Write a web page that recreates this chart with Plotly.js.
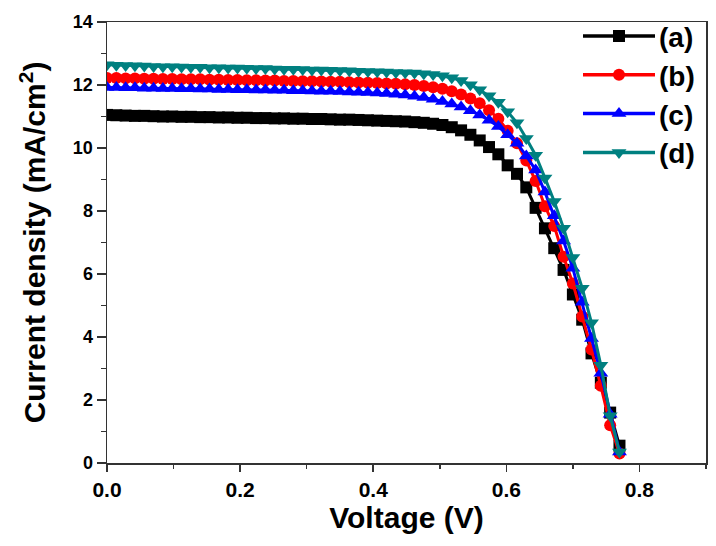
<!DOCTYPE html>
<html>
<head>
<meta charset="utf-8">
<script src="https://cdn.plot.ly/plotly-3.0.1.min.js"></script>
<style>html,body{margin:0;padding:0;background:#fff;}#chart{width:716px;height:546px;}</style>
</head>
<body>
<div id="chart"></div>
<script>
// Voltage (V)
const voltage = [0, 0.014, 0.028, 0.042, 0.056, 0.070, 0.084, 0.098, 0.112, 0.126, 0.140, 0.154, 0.168, 0.182, 0.196, 0.210, 0.224, 0.238, 0.252, 0.266, 0.280, 0.294, 0.308, 0.322, 0.336, 0.350, 0.364, 0.378, 0.392, 0.406, 0.420, 0.434, 0.448, 0.462, 0.476, 0.490, 0.504, 0.518, 0.532, 0.546, 0.560, 0.574, 0.588, 0.602, 0.616, 0.630, 0.644, 0.658, 0.672, 0.686, 0.700, 0.714, 0.728, 0.742, 0.756, 0.770];

const seriesA = [11.05, 11.04, 11.03, 11.02, 11.02, 11.01, 11.00, 11.00, 10.99, 10.99, 10.98, 10.98, 10.97, 10.97, 10.96, 10.96, 10.95, 10.95, 10.94, 10.94, 10.93, 10.93, 10.92, 10.92, 10.91, 10.90, 10.90, 10.89, 10.88, 10.87, 10.86, 10.85, 10.84, 10.82, 10.80, 10.77, 10.73, 10.66, 10.56, 10.42, 10.24, 10.03, 9.80, 9.45, 9.18, 8.75, 8.10, 7.45, 6.82, 6.13, 5.35, 4.55, 3.48, 2.55, 1.60, 0.55];

const seriesB = [12.22, 12.22, 12.21, 12.21, 12.20, 12.20, 12.19, 12.19, 12.18, 12.18, 12.18, 12.17, 12.17, 12.16, 12.16, 12.15, 12.15, 12.14, 12.14, 12.13, 12.13, 12.12, 12.12, 12.11, 12.10, 12.10, 12.09, 12.08, 12.07, 12.06, 12.05, 12.04, 12.02, 12.00, 11.97, 11.93, 11.88, 11.80, 11.70, 11.57, 11.42, 11.20, 10.93, 10.55, 10.15, 9.60, 8.95, 8.15, 7.52, 6.55, 5.70, 4.65, 3.60, 2.45, 1.20, 0.30];

const seriesC = [11.92, 11.92, 11.91, 11.91, 11.90, 11.90, 11.89, 11.89, 11.88, 11.88, 11.87, 11.87, 11.86, 11.86, 11.85, 11.85, 11.84, 11.84, 11.83, 11.83, 11.82, 11.82, 11.81, 11.80, 11.80, 11.79, 11.78, 11.77, 11.76, 11.75, 11.73, 11.71, 11.68, 11.64, 11.60, 11.55, 11.48, 11.40, 11.30, 11.18, 11.05, 10.88, 10.68, 10.42, 10.15, 9.75, 9.30, 8.60, 7.85, 7.05, 6.18, 5.10, 3.95, 2.85, 1.55, 0.35];

const seriesD = [12.64, 12.63, 12.62, 12.61, 12.60, 12.59, 12.58, 12.58, 12.57, 12.56, 12.56, 12.55, 12.55, 12.54, 12.54, 12.53, 12.52, 12.52, 12.51, 12.50, 12.50, 12.49, 12.48, 12.48, 12.47, 12.46, 12.45, 12.44, 12.43, 12.42, 12.41, 12.40, 12.39, 12.38, 12.36, 12.33, 12.29, 12.23, 12.14, 12.01, 11.85, 11.66, 11.45, 11.15, 10.80, 10.30, 9.77, 9.05, 8.30, 7.45, 6.52, 5.55, 4.45, 3.10, 1.50, 0.35];

const names = ['(a)', '(b)', '(c)', '(d)'];
const colors = ['#000000', '#ff0000', '#0000ff', '#008080'];
const symbols = ['square', 'circle', 'triangle-up', 'triangle-down'];
const sizes = [12, 12, 13, 13];
const allSeries = [seriesA, seriesB, seriesC, seriesD];

const traces = allSeries.map((ys, i) => ({
  x: voltage, y: ys, name: names[i], type: 'scatter', mode: 'lines+markers',
  line: {color: colors[i], width: 3},
  marker: {color: colors[i], symbol: symbols[i], size: sizes[i]}
}));

const font = 'Arial, "Liberation Sans", sans-serif';
const layout = {
  width: 716, height: 546,
  margin: {l: 107, r: 10, t: 22, b: 83},
  paper_bgcolor: '#fff', plot_bgcolor: '#fff',
  font: {family: font, color: '#000'},
  showlegend: true,
  legend: {x: 0.786, y: 1, xanchor: 'left', yanchor: 'top', bgcolor: 'rgba(0,0,0,0)',
           font: {size: 28, family: font, weight: 'bold'}, tracegroupgap: 0, itemwidth: 30},
  xaxis: {
    range: [0, 0.9], dtick: 0.2, tick0: 0, tickformat: '.1f',
    showgrid: false, zeroline: false,
    showline: true, linecolor: '#333', linewidth: 1.5, mirror: true,
    ticks: 'outside', ticklen: 7, tickwidth: 1.5, tickcolor: '#333',
    minor: {dtick: 0.1, ticks: 'outside', ticklen: 4, tickwidth: 1.5, tickcolor: '#333'},
    tickfont: {size: 21, family: font, weight: 'bold'},
    title: {text: 'Voltage (V)', font: {size: 30, family: font, weight: 'bold'}, standoff: 6}
  },
  yaxis: {
    range: [0, 14], dtick: 2, tick0: 0,
    showgrid: false, zeroline: false,
    showline: true, linecolor: '#333', linewidth: 1.5, mirror: true,
    ticks: 'outside', ticklen: 9, tickwidth: 1.5, tickcolor: '#333',
    minor: {dtick: 1, ticks: 'outside', ticklen: 5, tickwidth: 1.5, tickcolor: '#333'},
    tickfont: {size: 18, family: font, weight: 'bold'},
    title: {text: 'Current density (mA/cm<sup>2</sup>)', font: {size: 30, family: font, weight: 'bold'}, standoff: 18}
  }
};

const gd = document.getElementById('chart');
Plotly.newPlot(gd, traces, layout, {displayModeBar: false, staticPlot: true}).then(() => {
  // widen legend sample lines to match the reference style
  const leg = gd.querySelector('.legend');
  if (!leg) return;
  const sb = leg.querySelector('.scrollbox');
  if (sb) sb.removeAttribute('clip-path');
  const bg = leg.querySelector('.bg');
  if (bg) bg.style.display = 'none';
  leg.setAttribute('transform', 'translate(578,36)');
  if (sb) sb.setAttribute('transform', 'translate(0,0)');
  leg.querySelectorAll('.traces').forEach((g, i) => {
    g.setAttribute('transform', 'translate(0,' + (i * 38.8) + ')');
    g.querySelectorAll('.legendlines path').forEach(p => { p.setAttribute('d', 'M5,0h72'); p.style.strokeWidth = '3.5px'; });
    g.querySelectorAll('.legendpoints path').forEach(p => p.setAttribute('transform', 'translate(41,0)'));
    const t = g.querySelector('text.legendtext');
    if (t) t.setAttribute('x', '81');
  });
});
</script>
</body>
</html>
